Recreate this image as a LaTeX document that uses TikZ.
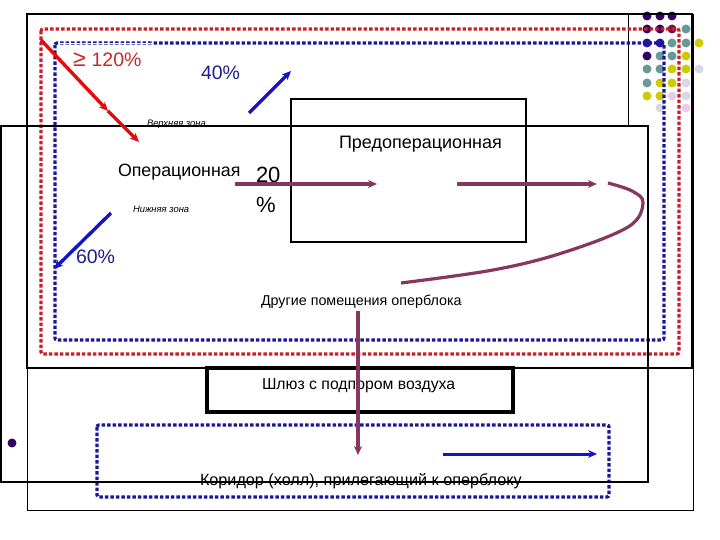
\documentclass[tikz,border=0pt]{standalone}
\usepackage{fontspec}
\setmainfont{Liberation Sans}
\usetikzlibrary{arrows.meta}
\definecolor{rdash}{RGB}{200,30,45}
\definecolor{bdash}{RGB}{25,25,150}
\definecolor{arrred}{RGB}{230,10,10}
\definecolor{arrblue}{RGB}{20,20,200}
\definecolor{plum}{RGB}{135,55,95}
\definecolor{txtred}{RGB}{200,40,40}
\definecolor{txtblue}{RGB}{30,30,140}
\definecolor{dpurple}{RGB}{51,0,102}
\definecolor{dblue}{RGB}{40,20,170}
\definecolor{dteal}{RGB}{102,153,153}
\definecolor{dyellow}{RGB}{204,204,0}
\definecolor{dlight}{RGB}{215,215,230}
\definecolor{dpink}{RGB}{232,205,232}
\definecolor{dmaroon}{RGB}{110,20,70}
\tikzset{
  lbl/.style={anchor=base west,inner sep=0pt,outer sep=0pt},
  thinbox/.style={draw=black,line width=0.8pt},
  thickbox/.style={draw=black,line width=2.4pt},
  reddash/.style={draw=rdash,line width=3.2pt,dash pattern=on 3.5pt off 2pt,rounded corners=2pt},
  bluedash/.style={draw=bdash,line width=3.2pt,dash pattern=on 3.5pt off 2pt,rounded corners=2pt},
  tip/.style={-{Stealth[length=9pt,width=8pt]}},
  plumarrow/.style={plum,line width=3.2pt,tip},
  dot/.style={circle,inner sep=0pt,minimum size=9pt,fill=#1}
}
\begin{document}
\begin{tikzpicture}[x=1pt,y=-1pt]
\useasboundingbox (0,0) rectangle (720,540);
% thin outer frame
\draw[thinbox] (27,14) rectangle (693,510);
\draw[thinbox] (628,14) -- (628,126);
% dot grid
\node[dot=dpurple] (d11) at (647,16) {};
\node[dot=dpurple] (d12) at (660,16) {};
\node[dot=dpurple] (d13) at (672,16) {};
\node[dot=dpurple] (d21) at (647,29) {};
\node[dot=dpurple] (d22) at (660,29) {};
\node[dot=dmaroon] (d23) at (672,29) {};
\node[dot=dteal] (d24) at (686,29) {};
\node[dot=dblue] (d31) at (647,43) {};
\node[dot=dblue] (d32) at (660,43) {};
\node[dot=dteal] (d33) at (672,43) {};
\node[dot=dteal] (d34) at (686,43) {};
\node[dot=dyellow] (d35) at (699,43) {};
\node[dot=dpurple] (d41) at (647,56) {};
\node[dot=dteal] (d42) at (660,56) {};
\node[dot=dteal] (d43) at (672,56) {};
\node[dot=dyellow] (d44) at (686,56) {};
\node[dot=dteal] (d51) at (647,69) {};
\node[dot=dteal] (d52) at (660,69) {};
\node[dot=dyellow] (d53) at (672,69) {};
\node[dot=dyellow] (d54) at (686,69) {};
\node[dot=dlight] (d55) at (699,69) {};
\node[dot=dteal] (d61) at (647,83) {};
\node[dot=dyellow] (d62) at (660,83) {};
\node[dot=dyellow] (d63) at (672,83) {};
\node[dot=dlight] (d64) at (686,83) {};
\node[dot=dyellow] (d71) at (647,96) {};
\node[dot=dyellow] (d72) at (660,96) {};
\node[dot=dpink] (d73) at (672,96) {};
\node[dot=dlight] (d74) at (686,96) {};
\node[dot=dlight] (d82) at (660,108) {};
\node[dot=dpink] (d84) at (686,108) {};
\node[circle,inner sep=0pt,minimum size=9pt,fill=dpurple] (lonedot) at (12,443) {};
% texts drawn under lines
\node[lbl,font=\itshape\fontsize{9.4}{11}\selectfont] (upper) at (147,127) {Верхняя зона};
\node[lbl,font=\fontsize{16.2}{18}\selectfont] (corr) at (200,485) {Коридор (холл), прилегающий к оперблоку};
% dashed zones
\draw[reddash] (41,29) rectangle (679,354);
\draw[bluedash] (55,43) rectangle (664,340);
\draw[white,line width=0.7pt] (59,43) -- (152,43);
\draw[bluedash] (97,425) rectangle (609,497);
% black boxes
\draw[thickbox] (27,14) rectangle (692,368);
\draw[thickbox] (1,126) rectangle (648,482);
\draw[thinbox,line width=1.1pt] (291,99) rectangle (526,242);
\draw[draw=black,line width=3.4pt] (207,368) rectangle (513,412);
% labels
\node[lbl,text=txtred,font=\fontsize{19.5}{22}\selectfont] (p120) at (73,67) {{\fontsize{23}{24}\selectfont ≥}\hspace{6pt}120\%};
\node[lbl,text=txtblue,font=\fontsize{19.5}{22}\selectfont] (p40) at (201,80) {40\%};
\node[lbl,text=txtblue,font=\fontsize{19.5}{22}\selectfont] (p60) at (76,263) {60\%};
\node[lbl,font=\fontsize{17.8}{20}\selectfont] (oper) at (118,177) {Операционная};
\node[lbl,font=\fontsize{22}{24}\selectfont] (p20) at (256,183) {20};
\node[lbl,font=\fontsize{22}{24}\selectfont] (pct) at (256,213) {\%};
\node[lbl,font=\itshape\fontsize{9.4}{11}\selectfont] (lower) at (133,212) {Нижняя зона};
\node[lbl,font=\fontsize{18}{20}\selectfont] (preop) at (339,149) {Предоперационная};
\node[lbl,font=\fontsize{14.3}{17}\selectfont] (other) at (261,305) {Другие помещения оперблока};
\node[lbl,font=\fontsize{15.8}{18}\selectfont] (lock) at (262,389) {Шлюз с подпором воздуха};
% arrows
\coordinate (r0) at (41,40);
\coordinate (r1) at (108,111);
\coordinate (r2) at (139,142);
\draw[arrred,line width=3.4pt,tip] (r0) -- (r1);
\draw[arrred,line width=3.4pt,tip] (r1) -- (r2);
\coordinate (b40s) at (249,113);
\coordinate (b40e) at (291,71);
\draw[arrblue,line width=3.4pt,tip] (b40s) -- (b40e);
\coordinate (b60s) at (111,213);
\coordinate (b60e) at (54,269);
\draw[arrblue,line width=3.4pt,tip] (b60s) -- (b60e);
\coordinate (h1s) at (235,184);
\coordinate (h1e) at (377,184);
\draw[plumarrow] (h1s) -- (h1e);
\coordinate (h2s) at (457,184);
\coordinate (h2e) at (597,184);
\draw[plumarrow] (h2s) -- (h2e);
\draw[plum,line width=3.2pt] plot[smooth,tension=0.6] coordinates {(608,183) (632,191) (643,203) (628,227) (562,253) (493,270) (401,283)};
\coordinate (vs) at (358,311);
\coordinate (ve) at (358,455);
\draw[plumarrow] (vs) -- (ve);
\coordinate (bhs) at (443,454);
\coordinate (bhe) at (597,454);
\draw[arrblue,line width=3pt,tip] (bhs) -- (bhe);
\end{tikzpicture}
\end{document}
